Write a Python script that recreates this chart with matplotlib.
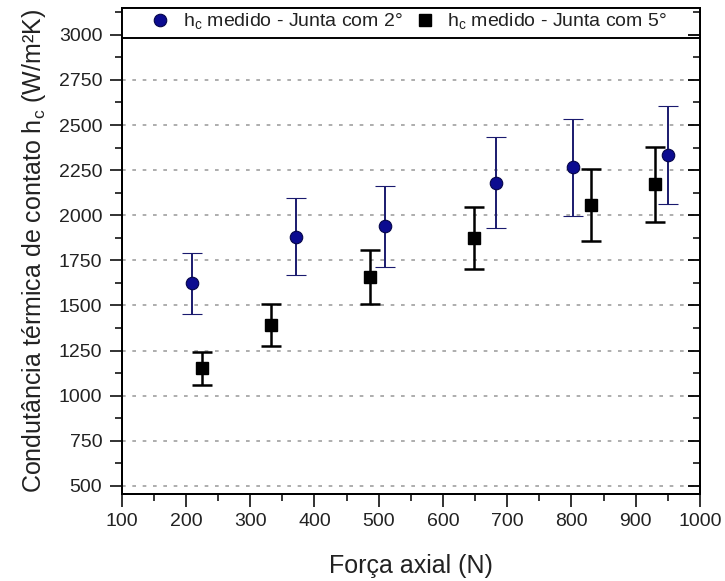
import matplotlib
matplotlib.use("Agg")
import matplotlib.pyplot as plt
from matplotlib.ticker import MultipleLocator
import numpy as np

plt.rcParams['font.family'] = ['Liberation Sans', 'DejaVu Sans']
plt.rcParams['mathtext.fontset'] = 'custom'
plt.rcParams['mathtext.rm'] = 'Liberation Sans'

# Junta com 2 graus
force_2 = [210, 372, 510, 682, 802, 950]
hc_2 = [1623, 1882, 1939, 2181, 2268, 2335]
hc_2_top = [1789, 2096, 2163, 2435, 2535, 2603]
hc_2_bot = [1455, 1670, 1712, 1930, 1998, 2063]

# Junta com 5 graus
force_5 = [225, 332, 487, 648, 830, 930]
hc_5 = [1152, 1390, 1660, 1875, 2059, 2171]
hc_5_top = [1243, 1507, 1810, 2044, 2254, 2376]
hc_5_bot = [1061, 1274, 1510, 1703, 1858, 1963]

label_2 = r'h$_\mathregular{c}$ medido - Junta com 2°'
label_5 = r'h$_\mathregular{c}$ medido - Junta com 5°'
xlabel = 'Força axial (N)'
ylabel = r'Condutância térmica de contato h$_\mathregular{c}$ (W/m²K)'

fig = plt.figure(figsize=(7.25, 5.81), dpi=100)
ax = fig.add_axes([0.1679, 0.1497, 0.9655 - 0.1679, 0.9867 - 0.1497])

y2 = np.array(hc_2); y5 = np.array(hc_5)
err2 = [y2 - np.array(hc_2_bot), np.array(hc_2_top) - y2]
err5 = [y5 - np.array(hc_5_bot), np.array(hc_5_top) - y5]

navy = '#1a1a6e'
e2 = ax.errorbar(force_2, hc_2, yerr=err2, fmt='o', color=navy, ecolor=navy,
                 elinewidth=1.4, capsize=7, capthick=1.4, markersize=9,
                 markerfacecolor='#0c0c90', markeredgecolor='#05054a',
                 markeredgewidth=0.8, zorder=4)
e5 = ax.errorbar(force_5, hc_5, yerr=err5, fmt='s', color='black', ecolor='black',
                 elinewidth=1.8, capsize=7, capthick=1.8, markersize=8.5,
                 markerfacecolor='black', markeredgecolor='black', zorder=4)

ax.set_xlim(100, 1000)
ax.set_ylim(455, 3150)
ax.xaxis.set_major_locator(MultipleLocator(100))
ax.xaxis.set_minor_locator(MultipleLocator(50))
ax.yaxis.set_major_locator(MultipleLocator(250))
ax.yaxis.set_minor_locator(MultipleLocator(125))
ax.set_yticks([500, 750, 1000, 1250, 1500, 1750, 2000, 2250, 2500, 2750, 3000])

ax.yaxis.grid(True, which='major', color='#a0a0a0', linestyle=(0, (2.2, 4)),
              linewidth=1.2, zorder=0)
ax.set_axisbelow(True)

ax.tick_params(axis='both', which='major', direction='out', length=9, width=1.3,
               labelsize=14, colors='#222222', pad=5)
ax.tick_params(axis='both', which='minor', direction='out', length=5, width=1.1)
ax.tick_params(top=False, right=False, which='both')

ax2 = ax.twinx()
ax2.set_ylim(ax.get_ylim())
ax2.yaxis.set_major_locator(MultipleLocator(250))
ax2.yaxis.set_minor_locator(MultipleLocator(125))
ax2.tick_params(axis='y', which='major', direction='in', length=9, width=1.3,
                labelright=False)
ax2.tick_params(axis='y', which='minor', direction='in', length=5, width=1.1)

for a in (ax, ax2):
    for s in a.spines.values():
        s.set_linewidth(1.4)
        s.set_color('black')

# legend box separator
ax.axhline(2980, color='black', linewidth=1.4, zorder=5)
ax.axhspan(2980, 3150, color='white', zorder=3)

leg1 = ax.legend([e2[0]], [label_2], loc='center left', bbox_to_anchor=(0.050, 0.9706),
                 frameon=False, fontsize=14, handlelength=1.0, handletextpad=0.65,
                 borderpad=0, borderaxespad=0)
ax.add_artist(leg1)
leg2 = ax.legend([e5[0]], [label_5], loc='center left', bbox_to_anchor=(0.507, 0.9706),
                 frameon=False, fontsize=14, handlelength=1.0, handletextpad=0.65,
                 borderpad=0, borderaxespad=0)
for lg in (leg1, leg2):
    lg.set_zorder(6)
    for t in lg.get_texts():
        t.set_color('#222222')

ax.set_xlabel(xlabel, fontsize=18, color='#222222', labelpad=17)
ax.set_ylabel(ylabel, fontsize=18, color='#222222', labelpad=8)

fig.savefig('out.png', dpi=100)
